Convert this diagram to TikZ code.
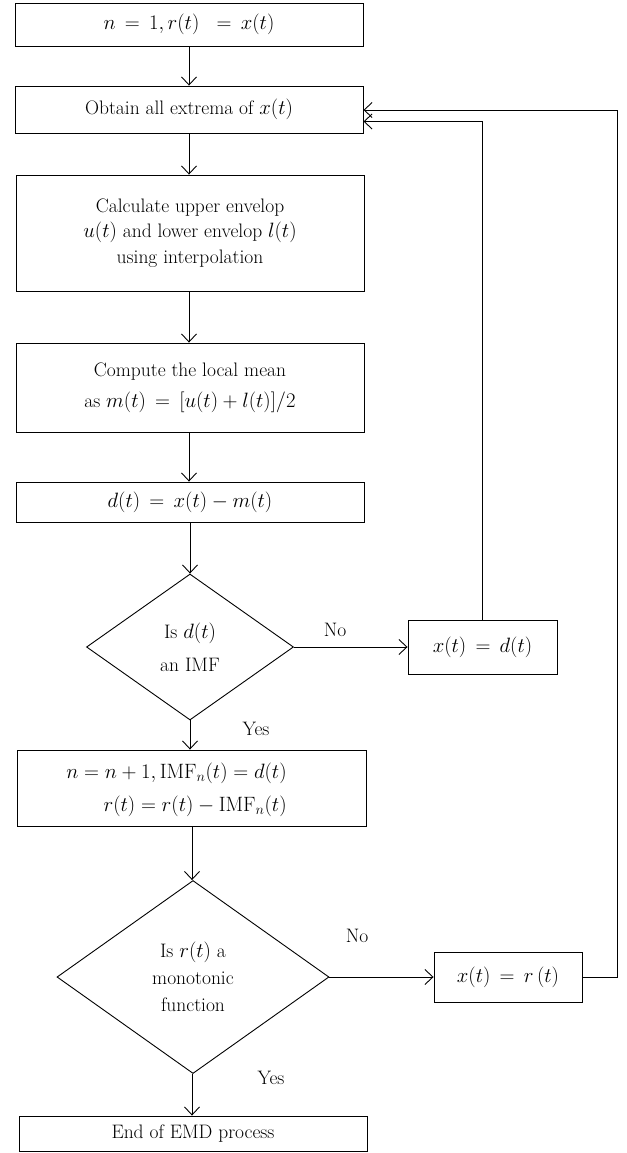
\documentclass[tikz,border=0pt]{standalone}
\usetikzlibrary{arrows.meta,shapes.geometric}
\begin{document}
\begin{tikzpicture}[x=1pt,y=-1pt,
  every node/.style={font=\fontsize{19.5}{23}\selectfont},
  box/.style={draw, line width=0.9pt, rectangle, inner sep=0pt, align=center},
  dec/.style={draw, line width=0.9pt, diamond, inner sep=0pt, align=center},
  lbl/.style={inner sep=0pt},
  flow/.style={line width=0.9pt, -{Straight Barb[length=8pt,width=15pt,line width=0.9pt]}},
  plain/.style={line width=0.9pt}]
\useasboundingbox (0,0) rectangle (626,1153);
\node[box, minimum width=348pt, minimum height=43pt] (b1) at (189,24.5) {$n\,=\,1, r(t)\;\;=\,x(t)$};
\node[box, minimum width=348pt, minimum height=47pt] (b2) at (189,109.5) {Obtain all extrema of $x(t)$};
\node[box, minimum width=348pt, minimum height=116pt, font=\fontsize{19.5}{25.5}\selectfont] (b3) at (190,233) {Calculate upper envelop\\ $u(t)$ and lower envelop $l(t)$\\ using interpolation};
\node[box, minimum width=348pt, minimum height=89pt, font=\fontsize{19.5}{31}\selectfont] (b4) at (190,387.5) {Compute the local mean\\ as $m(t)\,=\,[u(t)+l(t)]/2$};
\node[box, minimum width=348pt, minimum height=40pt] (b5) at (190,502) {$d(t)\,=\,x(t)-m(t)$};
\node[dec, minimum width=207pt, minimum height=146pt, font=\fontsize{19.5}{33}\selectfont] (d1) at (190,647) {Is $d(t)$\\ an IMF};
\node[box, minimum width=149pt, minimum height=54pt] (bd) at (482.5,647) {$x(t)\,=\,d(t)$};
\node[box, minimum width=349pt, minimum height=76pt, font=\fontsize{19.5}{33}\selectfont] (b6) at (191.5,788) {\begin{tabular}{@{}r@{}}$n=n+1, \mathrm{IMF}_n(t)=d(t)$\\ $r(t)=r(t)-\mathrm{IMF}_n(t)$\end{tabular}\hspace*{30pt}};
\node[dec, minimum width=272pt, minimum height=193pt, font=\fontsize{19.5}{27}\selectfont] (d2) at (193,977) {Is $r(t)$ a\\ monotonic\\ function};
\node[box, minimum width=148pt, minimum height=50pt] (br) at (508,977) {$x(t)\,=\,r\,(t)$};
\node[box, minimum width=348pt, minimum height=35pt] (b7) at (193,1133.5) {End of EMD process};
\node[lbl] (no1) at (335,630) {No};
\node[lbl] (yes1) at (256,729) {Yes};
\node[lbl] (no2) at (357,936) {No};
\node[lbl] (yes2) at (271,1078) {Yes};
\coordinate (c1) at (bd.north |- 0,121.5);
\coordinate (c2) at (617,977);
\coordinate (c3) at (617,110);
\draw[flow] (b1.south -| 189,0) -- (b2.north -| 189,0);
\draw[flow] (b2.south -| 189,0) -- (b3.north -| 189,0);
\draw[flow] (b3.south -| 189,0) -- (b4.north -| 189,0);
\draw[flow] (b4.south -| 189,0) -- (b5.north -| 189,0);
\draw[flow] (b5.south -| 190,0) -- (d1.north);
\draw[flow] (d1.east) -- (bd.west);
\draw[flow] (d1.south) -- (b6.north -| d1.south);
\draw[flow] (b6.south -| 192,0) -- (d2.north -| 192,0);
\draw[flow] (d2.east) -- (br.west);
\draw[flow] (d2.south -| 192,0) -- (b7.north -| 192,0);
\draw[flow] (bd.north) -- (c1) -- (c1 -| b2.east);
\draw[flow] (br.east) -- (c2) -- (c3) -- (c3 -| b2.east);
\end{tikzpicture}
\end{document}
